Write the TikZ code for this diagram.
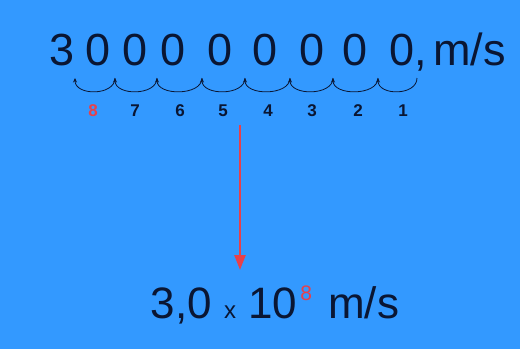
\documentclass[tikz,border=0pt]{standalone}
\usepackage{fontspec}
\setmainfont{Liberation Sans}
\usepackage{tikz}
\usetikzlibrary{arrows.meta,calc}
\definecolor{sky}{HTML}{3399FF}
\definecolor{ink}{HTML}{0A1633}
\definecolor{mark}{HTML}{E8404A}

\begin{document}
\begin{tikzpicture}[
    x=1pt, y=-1pt,
    digit/.style={inner sep=0pt, anchor=base, text=ink, font=\fontsize{45}{50}\selectfont},
    lbl/.style={inner sep=0pt, anchor=base, text=ink, font=\fontsize{17}{20}\selectfont\bfseries},
    hop/.style={-{Stealth[length=4.5pt,width=4pt]}, draw=ink, line width=0.8pt},
    arrow/.style={-{Triangle[length=15pt,width=11pt]}, draw=mark, line width=2.4pt}
]
    \fill[sky] (0,0) rectangle (520,349);
    \useasboundingbox (0,0) rectangle (520,349);

    % the number
    \node[digit] (d0) at (62,65) {3};
    \node[digit] (d1) at (98,65) {0};
    \node[digit] (d2) at (135,65) {0};
    \node[digit] (d3) at (173,65) {0};
    \node[digit] (d4) at (220,65) {0};
    \node[digit] (d5) at (265,65) {0};
    \node[digit] (d6) at (312,65) {0};
    \node[digit] (d7) at (355,65) {0};
    \node[digit] (d8) at (402,65) {0};
    \node[digit, anchor=base west] (unit) at (d8.base east) {,\hspace{6pt}m/s};

    % gaps between the digits
    \coordinate (g0) at (75,78);
    \coordinate (g1) at (115,78);
    \coordinate (g2) at (157,78);
    \coordinate (g3) at (202,78);
    \coordinate (g4) at (245,78);
    \coordinate (g5) at (290,78);
    \coordinate (g6) at (333,78);
    \coordinate (g7) at (378,78);
    \coordinate (g8) at (417,78);

    \draw[hop] (g1) .. controls ($(g1)+(0,18)$) and ($(g0)+(0,18)$) .. (g0);
    \draw[hop] (g2) .. controls ($(g2)+(0,18)$) and ($(g1)+(0,18)$) .. (g1);
    \draw[hop] (g3) .. controls ($(g3)+(0,18)$) and ($(g2)+(0,18)$) .. (g2);
    \draw[hop] (g4) .. controls ($(g4)+(0,18)$) and ($(g3)+(0,18)$) .. (g3);
    \draw[hop] (g5) .. controls ($(g5)+(0,18)$) and ($(g4)+(0,18)$) .. (g4);
    \draw[hop] (g6) .. controls ($(g6)+(0,18)$) and ($(g5)+(0,18)$) .. (g5);
    \draw[hop] (g7) .. controls ($(g7)+(0,18)$) and ($(g6)+(0,18)$) .. (g6);
    \draw[hop] (g8) .. controls ($(g8)+(0,18)$) and ($(g7)+(0,18)$) .. (g7);

    % counting the places
    \node[lbl, text=mark] (n8) at (93,116) {8};
    \node[lbl] (n7) at (135,116) {7};
    \node[lbl] (n6) at (180,116) {6};
    \node[lbl] (n5) at (223,116) {5};
    \node[lbl] (n4) at (268,116) {4};
    \node[lbl] (n3) at (312,116) {3};
    \node[lbl] (n2) at (358,116) {2};
    \node[lbl] (n1) at (403,116) {1};

    % result
    \node[digit, font=\fontsize{44}{50}\selectfont] (res) at (275,318)
        {3,0 {\fontsize{24}{26}\selectfont x} 10\hspace{3pt}\raisebox{18pt}{\fontsize{21}{22}\selectfont\color{mark}8}\hspace{4pt} m/s};

    \coordinate (atop) at (240,125);
    \coordinate (abot) at (240,270);
    \draw[arrow] (atop) -- (abot);
\end{tikzpicture}
\end{document}
